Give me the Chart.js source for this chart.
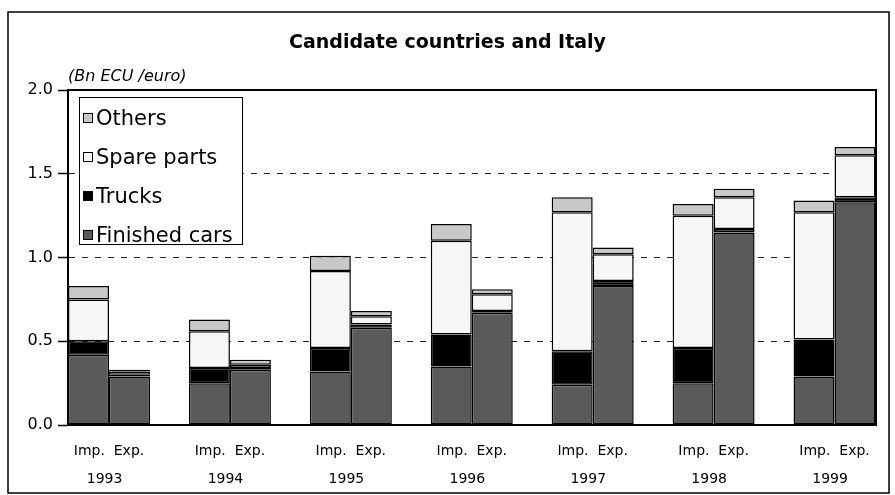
<!DOCTYPE html>
<html>
<head>
<meta charset="utf-8">
<title>Candidate countries and Italy</title>
<script src="https://cdn.jsdelivr.net/npm/chart.js@4/dist/chart.umd.min.js"></script>
<style>
  html, body { margin: 0; padding: 0; background: #fff; }
  #wrap { position: relative; width: 895px; height: 495px; }
  #legendBox {
    position: absolute; left: 79px; top: 97px; width: 164px; height: 148px;
    box-sizing: border-box; border: 1.5px solid #000; background: #fff;
    font-family: "DejaVu Sans", sans-serif; font-size: 21px; color: #000;
  }
  #legendBox .item { display: flex; align-items: center; height: 39px; padding-left: 3px; }
  #legendBox .mark { width: 10px; height: 10px; box-sizing: border-box; border: 1px solid #000; margin-right: 3px; }
</style>
</head>
<body>
<div id="wrap">
  <canvas id="chart" width="895" height="495"></canvas>
  <div id="legendBox"></div>
</div>
<script>
// values (Bn ECU / euro)
const years = [1993, 1994, 1995, 1996, 1997, 1998, 1999];

const impCars   = [0.42, 0.25, 0.32, 0.35, 0.24, 0.25, 0.29];
const impTrucks = [0.08, 0.09, 0.14, 0.19, 0.20, 0.21, 0.22];
const impSpare  = [0.25, 0.22, 0.46, 0.56, 0.83, 0.79, 0.76];
const impOthers = [0.08, 0.07, 0.09, 0.10, 0.09, 0.07, 0.07];

const expCars   = [0.29, 0.33, 0.58, 0.67, 0.83, 1.15, 1.33];
const expTrucks = [0.01, 0.01, 0.02, 0.01, 0.03, 0.02, 0.03];
const expSpare  = [0.02, 0.02, 0.05, 0.10, 0.16, 0.19, 0.25];
const expOthers = [0.01, 0.03, 0.03, 0.03, 0.04, 0.05, 0.05];

const seriesNames = ["Finished cars", "Trucks", "Spare parts", "Others"];
const yTicks = [0, 0.5, 1.0, 1.5, 2.0];

const fills = ["#5a5a5a", "#000000", "#f6f6f6", "#c8c8c8"];
const FONT = "'DejaVu Sans', sans-serif";

//========================================================================
const makeSet = (name, i, stack, data) => ({
  label: name,
  stack: stack,
  data: data,
  backgroundColor: fills[i],
  borderColor: "#000",
  borderWidth: 1.5,
  borderSkipped: false
});

const datasets = [
  makeSet(seriesNames[0], 0, "imp", impCars),
  makeSet(seriesNames[1], 1, "imp", impTrucks),
  makeSet(seriesNames[2], 2, "imp", impSpare),
  makeSet(seriesNames[3], 3, "imp", impOthers),
  makeSet(seriesNames[0], 0, "exp", expCars),
  makeSet(seriesNames[1], 1, "exp", expTrucks),
  makeSet(seriesNames[2], 2, "exp", expSpare),
  makeSet(seriesNames[3], 3, "exp", expOthers)
];

//========================================================================
const framePlugin = {
  id: "frame",
  beforeDraw: chart => {
    const ctx = chart.ctx;
    ctx.save();
    ctx.fillStyle = "#fff";
    ctx.fillRect(0, 0, chart.width, chart.height);
    ctx.restore();
  },
  afterDatasetsDraw: chart => {
    const { ctx, chartArea: a } = chart;
    ctx.save();
    ctx.strokeStyle = "#000";
    ctx.lineWidth = 2;
    ctx.beginPath();
    ctx.moveTo(a.left, a.top);
    ctx.lineTo(a.right, a.top);
    ctx.lineTo(a.right, a.bottom);
    ctx.stroke();
    ctx.restore();
  },
  afterDraw: chart => {
    const ctx = chart.ctx;
    ctx.save();
    ctx.strokeStyle = "#000";
    ctx.lineWidth = 1.5;
    ctx.strokeRect(8, 12, 881, 481);
    ctx.restore();
  }
};

//========================================================================
const chart = new Chart(document.getElementById("chart"), {
  type: "bar",
  data: { labels: years, datasets: datasets },
  plugins: [framePlugin],
  options: {
    responsive: false,
    animation: false,
    devicePixelRatio: 1,
    layout: { padding: { left: 19, right: 19, top: 12, bottom: 0 } },
    categoryPercentage: 0.678,
    barPercentage: 1.0,
    plugins: {
      legend: { display: false },
      tooltip: { enabled: false },
      title: {
        display: true,
        text: "Candidate countries and Italy",
        color: "#000",
        font: { family: FONT, size: 19, weight: "bold", lineHeight: 1.2 },
        padding: { top: 20, bottom: 6 }
      },
      subtitle: {
        display: true,
        text: "(Bn ECU /euro)",
        align: "start",
        fullSize: false,
        color: "#000",
        font: { family: FONT, size: 16, style: "italic", lineHeight: 1.2 },
        padding: { top: 6, bottom: 4 }
      }
    },
    scales: {
      x: {
        type: "linear",
        offset: false,
        stacked: true,
        min: years[0] - 0.339,
        max: years[years.length - 1] + 0.343,
        afterBuildTicks: s => { s.ticks = years.map(v => ({ value: v })); },
        afterFit: s => { s.height = 70; },
        grid: { display: false, drawTicks: false, offset: false },
        border: { display: true, color: "#000", width: 2 },
        ticks: {
          autoSkip: false,
          maxRotation: 0,
          padding: 12,
          color: "#000",
          font: { family: FONT, size: 14, lineHeight: 2 },
          callback: v => ["Imp.  Exp.", String(v) + "  "]
        }
      },
      y: {
        stacked: true,
        min: 0,
        max: 2,
        afterBuildTicks: s => { s.ticks = yTicks.map(v => ({ value: v })); },
        afterFit: s => { s.width = 49; },
        grid: {
          color: c => (c.tick && c.tick.value > 0 && c.tick.value < 2) ? "#222" : "rgba(0,0,0,0)",
          lineWidth: 1,
          drawTicks: true,
          tickLength: 10,
          tickColor: "#000",
          tickWidth: 1.5,
          tickBorderDash: []
        },
        border: { display: true, color: "#000", width: 2, dash: [6, 7] },
        ticks: {
          padding: 5,
          color: "#000",
          font: { family: FONT, size: 16 },
          callback: v => Number(v).toFixed(1)
        }
      }
    }
  }
});

//========================================================================
// legend box drawn inside the plot, top series first
const legendBox = document.getElementById("legendBox");
chart.data.datasets
  .filter(ds => ds.stack === "imp")
  .slice()
  .reverse()
  .forEach(ds => {
    const item = document.createElement("div");
    item.className = "item";
    const mark = document.createElement("span");
    mark.className = "mark";
    mark.style.background = ds.backgroundColor;
    const txt = document.createElement("span");
    txt.textContent = ds.label;
    item.appendChild(mark);
    item.appendChild(txt);
    legendBox.appendChild(item);
  });
</script>
</body>
</html>
